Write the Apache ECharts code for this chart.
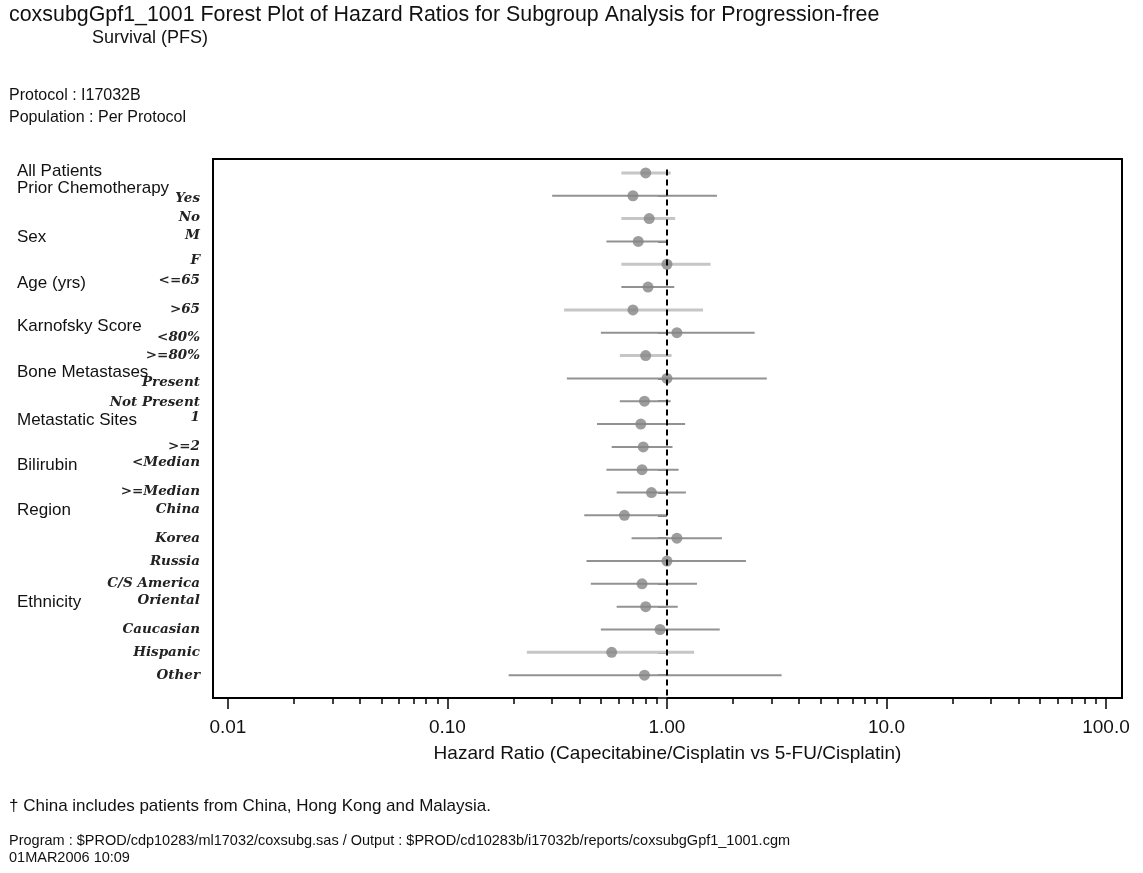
<!DOCTYPE html>
<html>
<head>
<meta charset="utf-8">
<script src="https://cdn.jsdelivr.net/npm/echarts@6/dist/echarts.min.js"></script>
<style>
  html, body { margin: 0; padding: 0; background: #fff; }
  #forest { width: 1143px; height: 873px; }
</style>
</head>
<body>
<div id="forest"></div>
<script>
// rows top to bottom, row 1 = All Patients
const subLabels = ['', 'Yes', 'No', 'M', 'F', '<=65', '>65', '<80%', '>=80%', 'Present', 'Not Present',
  '1', '>=2', '<Median', '>=Median', 'China', 'Korea', 'Russia', 'C/S America', 'Oriental',
  'Caucasian', 'Hispanic', 'Other']
const hr    = [0.80, 0.70, 0.83, 0.74, 1.00, 0.82, 0.70, 1.11, 0.80, 1.00, 0.79,
  0.76, 0.78, 0.77, 0.85, 0.64, 1.11, 1.00, 0.77, 0.80, 0.93, 0.56, 0.79]
const lower = [0.62, 0.30, 0.62, 0.53, 0.62, 0.62, 0.34, 0.50, 0.61, 0.35, 0.61,
  0.48, 0.56, 0.53, 0.59, 0.42, 0.69, 0.43, 0.45, 0.59, 0.50, 0.23, 0.19]
const upper = [1.04, 1.69, 1.09, 0.99, 1.58, 1.08, 1.46, 2.51, 1.05, 2.85, 1.04,
  1.21, 1.06, 1.13, 1.22, 0.99, 1.78, 2.29, 1.37, 1.12, 1.74, 1.33, 3.33]

const groupLabels = ['All Patients', 'Prior Chemotherapy', 'Sex', 'Age (yrs)', 'Karnofsky Score',
  'Bone Metastases', 'Metastatic Sites', 'Bilirubin', 'Region', 'Ethnicity']
const tickValues = [0.01, 0.1, 1, 10, 100]
const tickLabels = ['0.01', '0.10', '1.00', '10.0', '100.0']

// where the texts sit along the row axis (layout, not data)
const groupRows = [0.91, 1.66, 3.8, 5.82, 7.7, 9.72, 11.82, 13.79, 15.76, 19.83]
const subLabelRows = [null, 2.14, 2.97, 3.76, 4.85, 5.73, 7.0, 8.22, 9.0, 10.2, 11.05,
  11.7, 13.0, 13.7, 14.97, 15.76, 17.0, 18.0, 19.0, 19.75, 21.0, 22.0, 23.0]
// rows whose CI line prints lighter and thicker
const lightRows = [1, 3, 5, 7, 9, 22]

const xMin = -2.068
const xMax = 2.073
const yMin = 0.39
const yMax = 24

const majorTicks = tickValues.map(v => Math.log10(v))
const minorTicks = []
tickValues.slice(0, 4).forEach(d => {
  for (let k = 2; k <= 9; k++) minorTicks.push(Math.log10(d * k))
})
const rowTicks = []
for (let r = 1; r <= 24; r++) rowTicks.push(r)

const subMap = {}
subLabelRows.forEach((r, i) => { if (r != null) subMap[r] = subLabels[i] })
const groupMap = {}
groupRows.forEach((r, i) => { groupMap[r] = groupLabels[i] })
const labelMap = {}
majorTicks.forEach((v, i) => { labelMap[v] = tickLabels[i] })

const ciData = hr.map((v, i) => [Math.log10(lower[i]), Math.log10(upper[i]), i + 1])
const pointData = hr.map((v, i) => [Math.log10(v), i + 1])

const sans = 'Liberation Sans, Arial, sans-serif'
const textBase = { fontFamily: sans, fontWeight: 'normal', color: '#111' }

var chartDom = document.getElementById('forest')
var myChart = echarts.init(chartDom)
var option

option = {
  animation: false,
  backgroundColor: '#fff',
  title: [
    { text: 'coxsubgGpf1_1001 Forest Plot of Hazard Ratios for Subgroup Analysis for Progression-free',
      left: 9, top: 5, padding: 0, textStyle: { ...textBase, fontSize: 21.4 } },
    { text: 'Survival (PFS)', left: 92, top: 29, padding: 0, textStyle: { ...textBase, fontSize: 18 } },
    { text: 'Protocol : I17032B', left: 9, top: 88, padding: 0, textStyle: { ...textBase, fontSize: 16 } },
    { text: 'Population : Per Protocol', left: 9, top: 110, padding: 0, textStyle: { ...textBase, fontSize: 16 } },
    { text: '\u2020 China includes patients from China, Hong Kong and Malaysia.',
      left: 9, top: 798, padding: 0, textStyle: { ...textBase, fontSize: 17 } },
    { text: 'Program : $PROD/cdp10283/ml17032/coxsubg.sas / Output : $PROD/cd10283b/i17032b/reports/coxsubgGpf1_1001.cgm',
      left: 9, top: 833, padding: 0, textStyle: { ...textBase, fontSize: 14.5 } },
    { text: '01MAR2006 10:09', left: 9, top: 850, padding: 0, textStyle: { ...textBase, fontSize: 14.5 } }
  ],
  grid: {
    left: 213,
    top: 159,
    width: 909,
    height: 539,
    show: true,
    borderColor: '#000',
    borderWidth: 2,
    backgroundColor: '#fff'
  },
  xAxis: [
    {
      type: 'value',
      min: xMin,
      max: xMax,
      splitLine: { show: false },
      axisLine: { show: false },
      axisTick: { show: true, length: 11, customValues: majorTicks, lineStyle: { color: '#000', width: 1.5 } },
      axisLabel: {
        customValues: majorTicks,
        margin: 20,
        fontFamily: sans,
        fontSize: 19,
        color: '#111',
        formatter: v => labelMap[v] !== undefined ? labelMap[v] : ''
      },
      name: 'Hazard Ratio (Capecitabine/Cisplatin vs 5-FU/Cisplatin)',
      nameLocation: 'middle',
      nameGap: 46,
      nameTextStyle: { fontFamily: sans, fontSize: 19, color: '#111' }
    },
    {
      type: 'value',
      min: xMin,
      max: xMax,
      position: 'bottom',
      splitLine: { show: false },
      axisLine: { show: false },
      axisLabel: { show: false },
      axisTick: { show: true, length: 6, customValues: minorTicks, lineStyle: { color: '#000', width: 1.5 } }
    }
  ],
  yAxis: [
    {
      type: 'value',
      inverse: true,
      min: yMin,
      max: yMax,
      position: 'left',
      splitLine: { show: false },
      axisLine: { show: false },
      axisTick: { show: true, length: 9, customValues: rowTicks, lineStyle: { color: '#555', width: 1.5 } },
      axisLabel: {
        customValues: subLabelRows.filter(r => r != null),
        margin: 13,
        fontFamily: 'DejaVu Serif',
        fontStyle: 'italic',
        fontWeight: 'bold',
        fontSize: 13.5,
        color: '#222',
        formatter: v => subMap[v] || ''
      }
    },
    {
      type: 'value',
      inverse: true,
      min: yMin,
      max: yMax,
      position: 'left',
      splitLine: { show: false },
      axisLine: { show: false },
      axisTick: { show: false },
      axisLabel: {
        customValues: groupRows,
        align: 'left',
        margin: 196,
        fontFamily: sans,
        fontSize: 17,
        color: '#111',
        formatter: v => groupMap[v] || ''
      }
    }
  ],
  series: [
    {
      name: 'CI',
      type: 'custom',
      z: 2,
      data: ciData,
      encode: { x: [0, 1], y: 2 },
      renderItem: function (params, api) {
        const row = api.value(2)
        const p0 = api.coord([api.value(0), row])
        const p1 = api.coord([api.value(1), row])
        const light = lightRows.indexOf(row) >= 0
        return {
          type: 'line',
          shape: { x1: p0[0], y1: p0[1], x2: p1[0], y2: p1[1] },
          style: { stroke: light ? '#c6c6c6' : '#929292', lineWidth: light ? 3 : 2 }
        }
      },
      markLine: {
        silent: true,
        symbol: 'none',
        label: { show: false },
        lineStyle: { color: '#000', type: [6, 4], width: 2 },
        data: [[{ coord: [0, 0.85] }, { coord: [0, yMax] }]]
      }
    },
    {
      name: 'HR',
      type: 'scatter',
      z: 3,
      symbol: 'circle',
      symbolSize: 11,
      itemStyle: { color: '#858585' },
      data: pointData
    }
  ]
}
option && myChart.setOption(option)
</script>
</body>
</html>
